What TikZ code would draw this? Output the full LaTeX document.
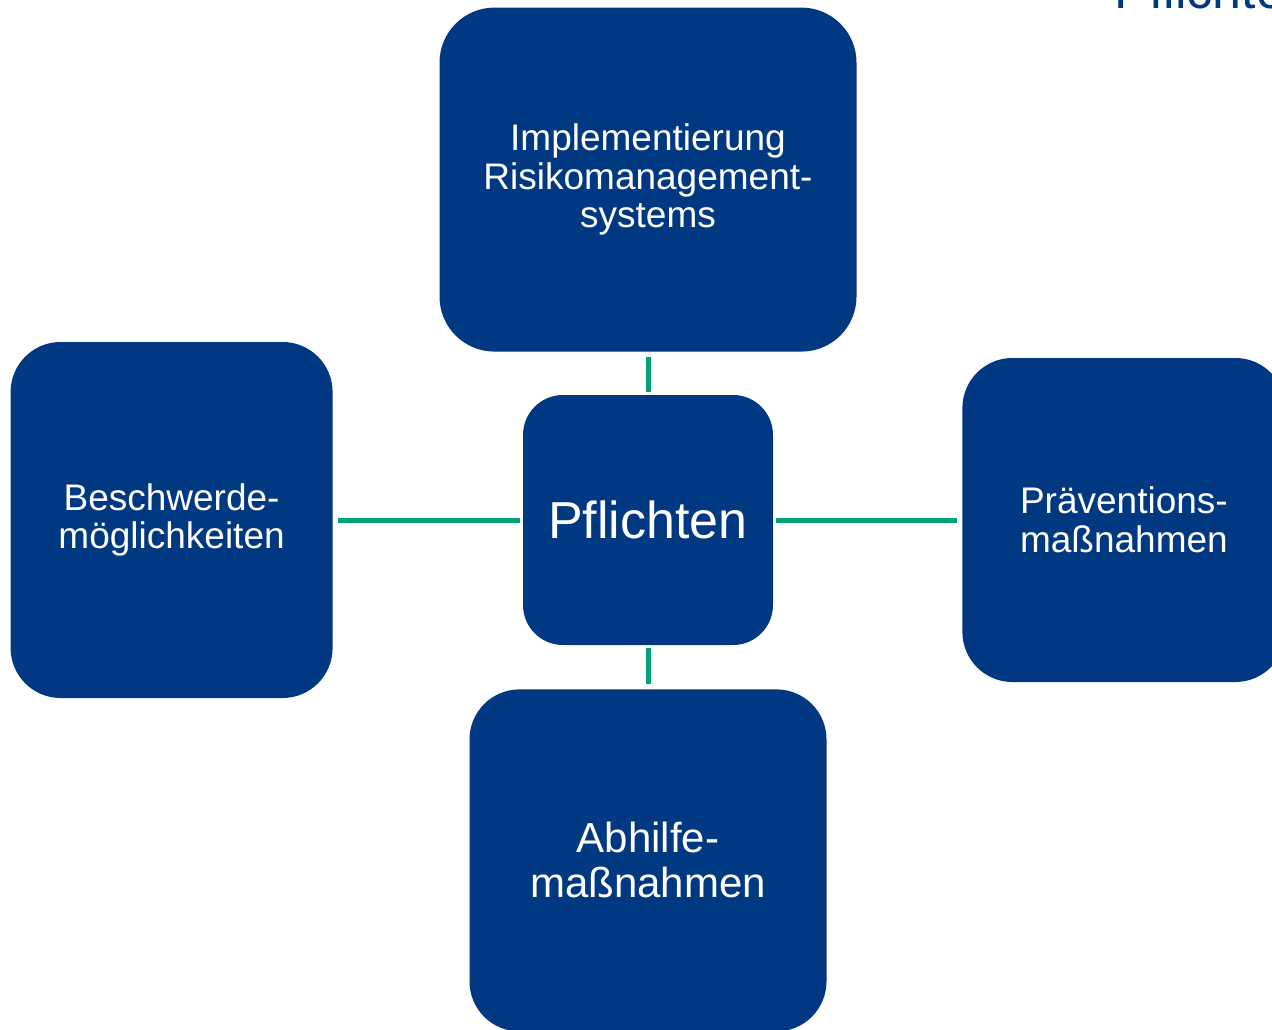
\documentclass[tikz,border=0pt]{standalone}
\usepackage{fontspec}
\setmainfont{Liberation Sans}
\usepackage{xcolor}
\usetikzlibrary{positioning}

\definecolor{dutyblue}{HTML}{003882}
\definecolor{dutygreen}{HTML}{00A278}

\begin{document}
\begin{tikzpicture}[
    x=1pt, y=-1pt,
    box/.style={rectangle, rounded corners=50pt, fill=dutyblue, text=white, inner sep=0pt, align=center, font=\fontsize{37}{38.5}\selectfont},
    link/.style={draw=dutygreen, line width=5pt, shorten <=3pt, shorten >=5pt}
]
\clip (0,0) rectangle (1272,1030);

\node[anchor=base west, text=dutyblue, font=\fontsize{52}{60}\selectfont] (title) at (1111,9) {Pflichten};

\node[box, rounded corners=40pt, minimum width=250pt, minimum height=250pt, font=\fontsize{52}{60}\selectfont] (duty) at (648,520) {Pflichten};
\node[box, rounded corners=55pt, minimum width=417pt, minimum height=344pt, above=43pt of duty] (risk) {Implementierung\\Risikomanagement-\\systems};
\node[box, minimum width=322pt, minimum height=356pt, left=190pt of duty] (complaint) {Beschwerde-\\möglichkeiten};
\node[box, minimum width=323pt, minimum height=324pt, right=189pt of duty] (prevent) {Präventions-\\maßnahmen};
\node[box, minimum width=357pt, minimum height=342pt, below=44pt of duty, font=\fontsize{42}{45}\selectfont] (remedy) {Abhilfe-\\maßnahmen};

\draw[link] (duty) -- (risk);
\draw[link] (duty) -- (complaint);
\draw[link] (duty) -- (prevent);
\draw[link] (duty) -- (remedy);

\end{tikzpicture}
\end{document}
